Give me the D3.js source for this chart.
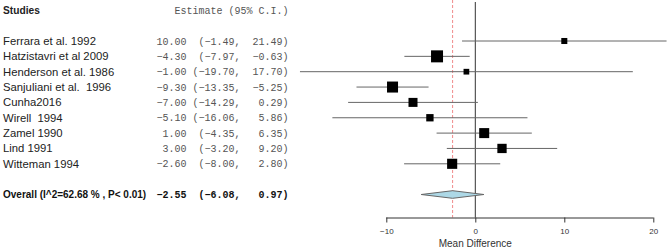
<!DOCTYPE html>
<html><head><meta charset="utf-8">
<script src="https://cdn.jsdelivr.net/npm/d3@7"></script>
<style>html,body{margin:0;padding:0;background:#fff;}svg{display:block;}</style>
</head><body>
<svg id="chart" width="669" height="249"></svg>
<script>
const studies = ["Ferrara et al. 1992","Hatzistavri et al 2009","Henderson et al. 1986","Sanjuliani et al.  1996","Cunha2016","Wirell  1994","Zamel 1990","Lind 1991","Witteman 1994"];
const estimates = [10.00,-4.30,-1.00,-9.30,-7.00,-5.10,1.00,3.00,-2.60];
const lower = [-1.49,-7.97,-19.70,-13.35,-14.29,-16.06,-4.35,-3.20,-8.00];
const upper = [21.49,-0.63,17.70,-5.25,0.29,5.86,6.35,9.20,2.80];
const weights = [4.8,19.0,4.3,16.0,10.7,7.1,13.2,11.4,13.5];
const overallLabel = "Overall (I^2=62.68 % , P< 0.01)";
const overall = {est:-2.55, lo:-6.08, hi:0.97};
const xTicks = [-10,0,10,20];
const xTitle = "Mean Difference";
const header = ["Studies","Estimate (95% C.I.)"];

const svg = d3.select("#chart");
const x = d3.scaleLinear().domain([-10,20]).range([386.3,653.3]);
const y = d3.scaleLinear().domain([0,12]).range([10.3,194.5]);
const size = d3.scaleSqrt().domain([0,19]).range([0,12]);
const axisY = 217.5;
const colHi = 288.5, colLo = 240.5, colEst = 186.5;
const fmt = d3.format(".2f");
const sans = "Liberation Sans, Arial, sans-serif";
const mono = "Liberation Mono, Courier New, monospace";

// header
svg.append("text").attr("x",3).attr("y",y(0)).attr("dy","0.35em")
  .attr("font-family",sans).attr("font-size",10.2).attr("font-weight","bold")
  .attr("fill","#222").text(header[0]);
svg.append("text").attr("x",colHi).attr("y",y(0)).attr("dy","0.35em").attr("text-anchor","end")
  .attr("font-family",mono).attr("font-size",10)
  .attr("fill","#555").text(header[1]);

// reference lines
svg.append("line").attr("x1",x(0)).attr("x2",x(0)).attr("y1",2).attr("y2",axisY)
  .attr("stroke","#333").attr("stroke-width",1);
svg.append("line").attr("x1",x(overall.est)).attr("x2",x(overall.est)).attr("y1",0).attr("y2",axisY)
  .attr("stroke","#f08a8a").attr("stroke-width",1).attr("stroke-dasharray","3,2");

function ciCols(sel, d, bold) {
  const cols = [[colEst, fmt(d.est)], [colLo, "(" + fmt(d.lo) + ","], [colHi, fmt(d.hi) + ")"]];
  cols.forEach(([cx, t]) => {
    sel.append("text").attr("x", cx).attr("y", y(d.r)).attr("dy","0.35em").attr("text-anchor","end")
      .attr("font-family", mono).attr("font-size", 10).attr("font-weight", bold ? "bold" : "normal")
      .attr("fill", bold ? "#111" : "#555").text(t);
  });
}

// rows
const rows = studies.map((s,i)=>({name:s,est:estimates[i],lo:lower[i],hi:upper[i],w:weights[i],r:i+2}));
const g = svg.append("g");
g.selectAll("text.name").data(rows).join("text").attr("class","name")
  .attr("x",3).attr("y",d=>y(d.r)).attr("dy","0.35em")
  .attr("font-family",sans).attr("font-size",11.3)
  .attr("fill","#222").attr("xml:space","preserve").text(d=>d.name);
rows.forEach(d => ciCols(g, d, false));
g.selectAll("line.ci").data(rows).join("line").attr("class","ci")
  .attr("x1",d=>x(d.lo)).attr("x2",d=>x(d.hi)).attr("y1",d=>y(d.r)).attr("y2",d=>y(d.r))
  .attr("stroke","#666").attr("stroke-width",1);
g.selectAll("rect.box").data(rows).join("rect").attr("class","box")
  .attr("x",d=>x(d.est)-size(d.w)/2).attr("y",d=>y(d.r)-size(d.w)/2)
  .attr("width",d=>size(d.w)).attr("height",d=>size(d.w)).attr("fill","#000");

// overall
const oy = y(12);
svg.append("text").attr("x",3).attr("y",oy).attr("dy","0.35em")
  .attr("font-family",sans).attr("font-size",10).attr("font-weight","bold")
  .attr("fill","#111").text(overallLabel);
ciCols(svg, {est:overall.est, lo:overall.lo, hi:overall.hi, r:12}, true);
const dh = 3.8;
svg.append("path")
  .attr("d",`M${x(overall.lo)},${oy} L${x(overall.est)},${oy-dh} L${x(overall.hi)},${oy} L${x(overall.est)},${oy+dh} Z`)
  .attr("fill","#add8e6").attr("stroke","#666").attr("stroke-width",1);

// axis
const axis = d3.axisBottom(x).tickValues(xTicks).tickSize(5).tickFormat(d3.format("d"));
const ag = svg.append("g").attr("transform",`translate(0,${axisY})`).call(axis);
ag.select(".domain").attr("stroke","#333").attr("d",`M${x(-10)},0.5H${x(20)}`);
ag.selectAll(".tick line").attr("stroke","#333");
ag.selectAll(".tick text").attr("font-family",sans).attr("font-size",8).attr("fill","#333").attr("y",11);
svg.append("text").attr("x",x(0)).attr("y",247).attr("text-anchor","middle")
  .attr("font-family",sans).attr("font-size",10).attr("fill","#333").text(xTitle);
</script>
</body></html>
